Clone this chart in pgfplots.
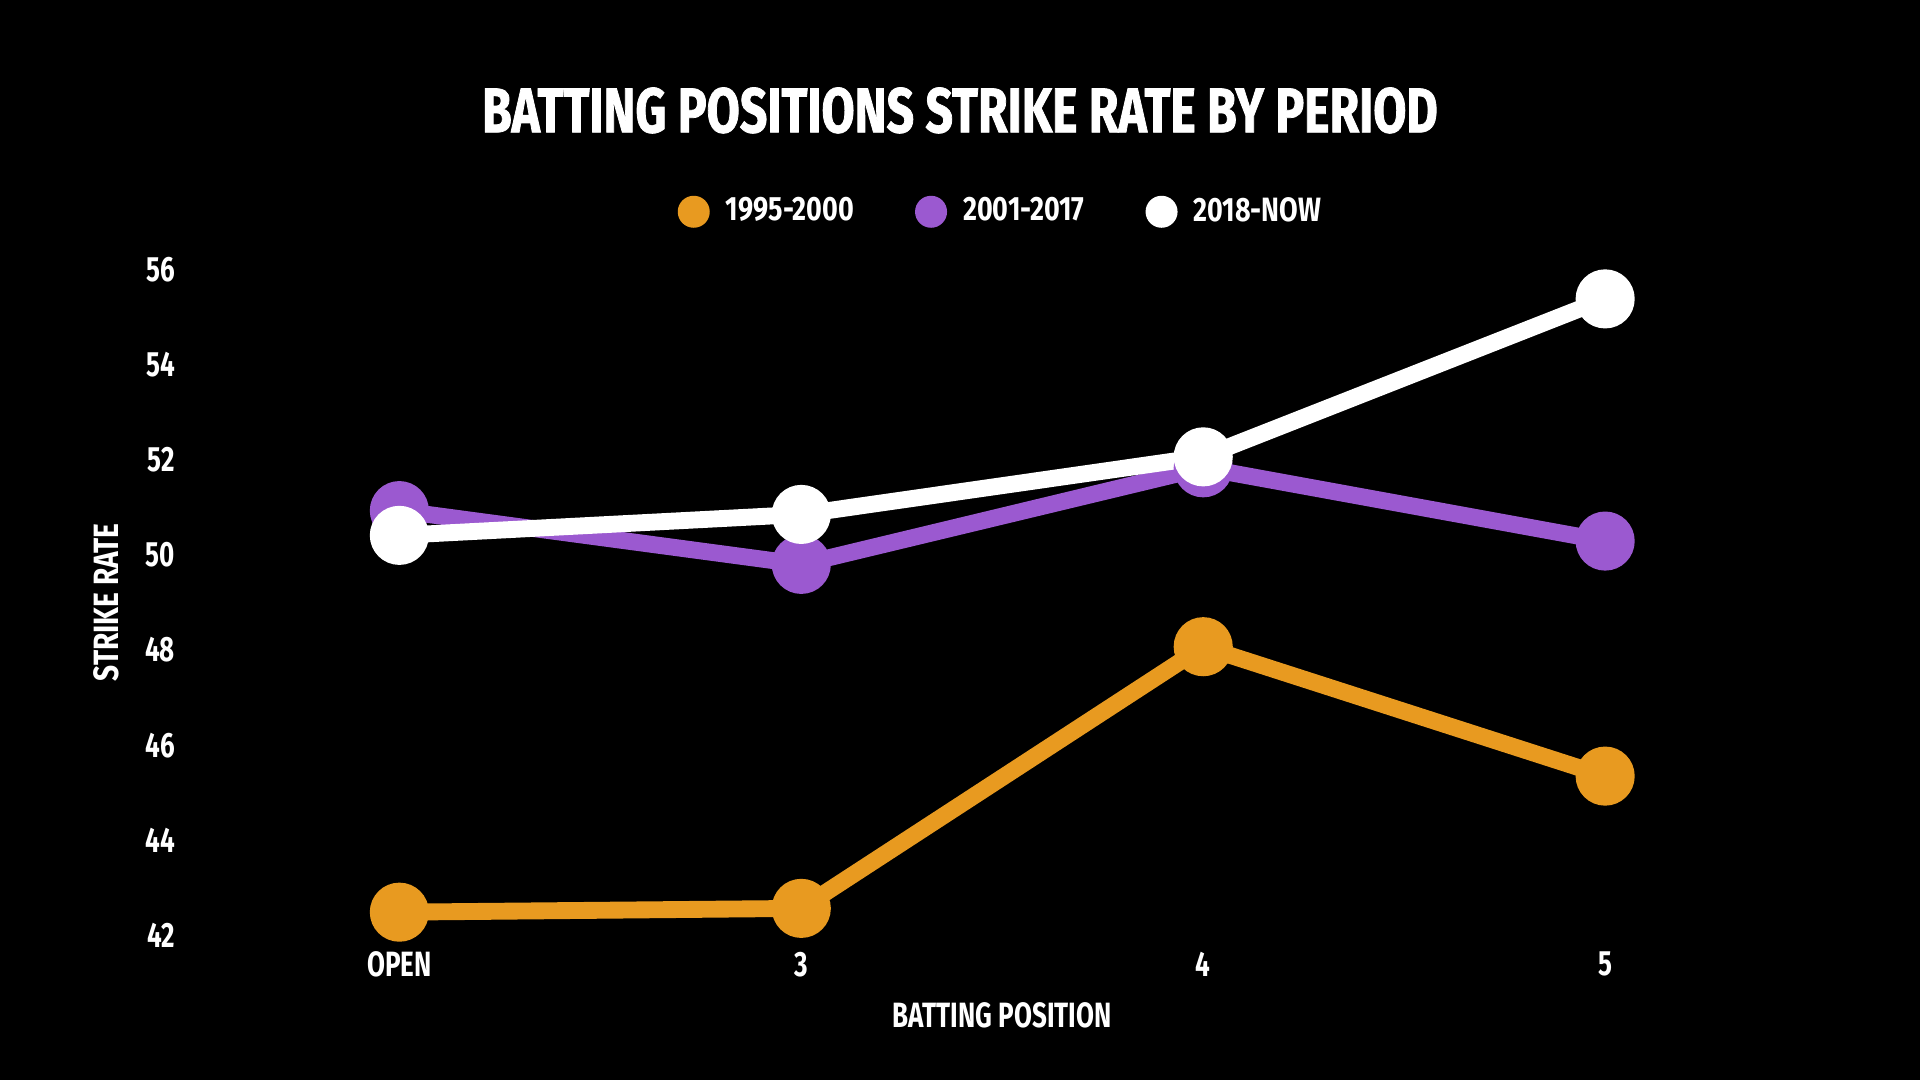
\documentclass[border=0pt]{standalone}
\usepackage{pgfplots}
\pgfplotsset{compat=1.18}
\usepackage{fontspec}
\setmainfont{Fira Sans}[FakeStretch=0.74]
\newfontfamily\titlefont{Fira Sans}[FakeStretch=0.76, FakeBold=1.2]
\newfontfamily\legfont{Fira Sans}[FakeStretch=0.8]
\newfontfamily\ylabfont{Fira Sans}[FakeStretch=0.8]
\definecolor{corange}{RGB}{232,154,32}
\definecolor{cpurple}{RGB}{155,89,208}
\begin{document}
\begin{tikzpicture}
\fill[black] (0,0) rectangle (19.2cm,10.8cm);
\begin{axis}[
  at={(1.984cm,1.445cm)}, anchor=south west,
  scale only axis, width=16.077cm, height=6.661cm,
  xmin=-0.5, xmax=3.5, ymin=42, ymax=56,
  clip=false,
  axis line style={draw=none},
  major tick length=0pt,
  xtick={0,1,2,3}, xticklabels={OPEN,3,4,5},
  ytick={42,44,46,48,50,52,54,56},
  /pgf/number format/assume math mode=true,
  tick label style={font=\bfseries\fontsize{10}{12}\selectfont, text=white},
  yticklabel style={anchor=east, xshift=-1.1mm},
  xticklabel style={anchor=north, yshift=-0.4mm},
  xlabel={BATTING POSITION},
  ylabel={STRIKE RATE},
  xlabel style={at={(axis description cs:0.5,-0.120)}, anchor=center, font=\bfseries\fontsize{10}{12}\selectfont, text=white},
  ylabel style={at={(axis description cs:-0.0572,0.5)}, anchor=center, font=\ylabfont\bfseries\fontsize{10}{12}\selectfont, text=white},
  title={BATTING POSITIONS STRIKE RATE BY PERIOD},
  title style={at={(axis description cs:0.4737,1.207)}, anchor=center, font=\titlefont\bfseries\fontsize{18}{20}\selectfont, text=white},
  legend columns=3,
  legend style={at={(axis description cs:0.5005,1.0865)}, anchor=center, draw=none, fill=black, text=white,
    font=\legfont\bfseries\fontsize{9.6}{11}\selectfont, /tikz/every even column/.append style={column sep=5.4mm}},
  legend image code/.code={\fill[#1, draw=none] (0,0) circle (1.6mm); \path[draw=none] (-1.6mm,0) -- (2.5mm,0);},
  every axis plot/.append style={line width=4.8pt, mark=*, mark size=6pt},
]
\addplot[color=corange, mark options={draw=none, fill=corange}] coordinates {(0,42.49) (1,42.57) (2,48.07) (3,45.35)};
\addlegendentry{1995-2000}
\addplot[color=cpurple, mark options={draw=none, fill=cpurple}] coordinates {(0,50.93) (1,49.80) (2,51.83) (3,50.29)};
\addlegendentry{2001-2017}
\addplot[color=white, mark options={draw=none, fill=white}] coordinates {(0,50.41) (1,50.85) (2,52.06) (3,55.38)};
\addlegendentry{2018-NOW}
\end{axis}
\end{tikzpicture}
\end{document}
